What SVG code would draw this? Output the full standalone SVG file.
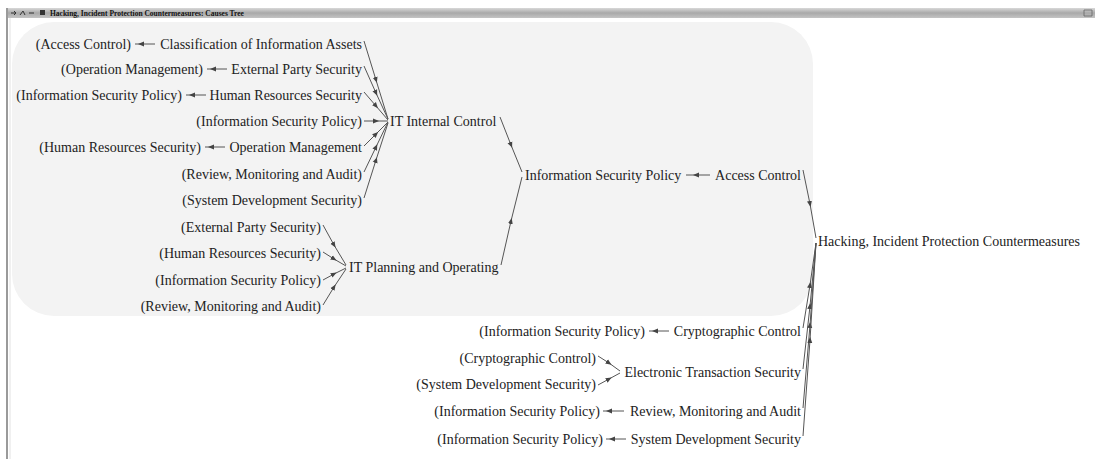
<svg xmlns="http://www.w3.org/2000/svg" width="1100" height="459" viewBox="0 0 1100 459">
<defs>
<linearGradient id="bar" x1="0" y1="0" x2="0" y2="1">
<stop offset="0" stop-color="#d8d8d8"/>
<stop offset="0.5" stop-color="#a9a9a9"/>
<stop offset="1" stop-color="#c4c4c4"/>
</linearGradient>
<marker id="ah" viewBox="0 0 6 6" refX="3" refY="3" markerWidth="6" markerHeight="6" markerUnits="userSpaceOnUse" orient="auto">
<path d="M0,0.5 L6,3 L0,5.5 z" fill="#444"/>
</marker>
<style>
text{font-family:"Liberation Serif","Times New Roman",serif;font-size:14px;fill:#222}
.e{text-anchor:end}
.c path{fill:none;stroke:#555;stroke-width:1;marker-mid:url(#ah)}
.t{font-size:7.5px;font-weight:bold;fill:#111}
</style>
</defs>
<rect x="0" y="0" width="1100" height="459" fill="#fff"/>
<!-- window frame -->
<rect x="8" y="8" width="1087" height="10" fill="url(#bar)"/>
<line x1="7" y1="8" x2="7" y2="459" stroke="#9a9a9a" stroke-width="2"/>
<line x1="10" y1="18" x2="10" y2="459" stroke="#e2e2e2" stroke-width="1"/>
<path d="M11 13 L16 13 M14 11 L16 13 L14 15 M20 15 L23 11 L25 15 M29 13 L34 13" stroke="#333" stroke-width="1" fill="none"/>
<rect x="40" y="10" width="5" height="5" fill="#333"/>
<text class="t" x="50" y="16">Hacking, Incident Protection Countermeasures: Causes Tree</text>
<path d="M1084 10 L1092 10 L1092 16 L1084 16 z" fill="none" stroke="#666" stroke-width="0.8"/>
<!-- highlight region -->
<rect x="12" y="22" width="801" height="294" rx="42" ry="42" fill="#f3f3f3"/>

<g id="connectors" class="c">
<path d="M155 44 L141 44 L135 44"/>
<path d="M227 69 L213 69 L207 69"/>
<path d="M206 95 L192 95 L186 95"/>
<path d="M225 147 L211 147 L205 147"/>
<path d="M364 41 L376 80 L388 119"/>
<path d="M364 66 L376 93 L388 119"/>
<path d="M364 92 L376 106 L388 120"/>
<path d="M364 121 L376 121 L388 121"/>
<path d="M364 146 L376 134 L388 122"/>
<path d="M364 172 L376 147 L388 122"/>
<path d="M364 198 L376 160 L388 123"/>
<path d="M323 225 L334 245 L346 265"/>
<path d="M323 252 L334 259 L346 266"/>
<path d="M323 280 L334 274 L346 268"/>
<path d="M323 305 L334 287 L346 269"/>
<path d="M500 117 L511 145 L522 172"/>
<path d="M501 265 L511 221 L522 177"/>
<path d="M710 175 L696 175 L686 175"/>
<path d="M803 170 L810 204 L816 238"/>
<path d="M669 331 L655 331 L649 331"/>
<path d="M598 356 L609 363 L620 371"/>
<path d="M598 385 L609 379 L620 373"/>
<path d="M624 411 L609 411 L603 411"/>
<path d="M626 439 L612 439 L606 439"/>
<path d="M803 328 L810 285 L816 243"/>
<path d="M803 369 L810 306 L816 243"/>
<path d="M803 408 L810 325 L816 243"/>
<path d="M803 436 L810 340 L816 243"/>
</g>

<g id="n-classification"><text class="e" x="362" y="49">Classification of Information Assets</text><text class="e" x="131" y="49">(Access Control)</text></g>
<g id="n-external"><text class="e" x="362" y="74">External Party Security</text><text class="e" x="203" y="74">(Operation Management)</text></g>
<g id="n-human"><text class="e" x="362" y="100">Human Resources Security</text><text class="e" x="182" y="100">(Information Security Policy)</text></g>
<g id="n-isp-ref1"><text class="e" x="362" y="126">(Information Security Policy)</text></g>
<g id="n-operation"><text class="e" x="362" y="152">Operation Management</text><text class="e" x="201" y="152">(Human Resources Security)</text></g>
<g id="n-rma-ref1"><text class="e" x="362" y="179">(Review, Monitoring and Audit)</text></g>
<g id="n-sds-ref1"><text class="e" x="362" y="205">(System Development Security)</text></g>
<g id="n-it-internal"><text x="390" y="126">IT Internal Control</text></g>
<g id="n-eps-ref"><text class="e" x="321" y="232">(External Party Security)</text></g>
<g id="n-hrs-ref"><text class="e" x="321" y="258">(Human Resources Security)</text></g>
<g id="n-isp-ref2"><text class="e" x="321" y="285">(Information Security Policy)</text></g>
<g id="n-rma-ref2"><text class="e" x="321" y="311">(Review, Monitoring and Audit)</text></g>
<g id="n-it-planning"><text x="349" y="272">IT Planning and Operating</text></g>
<g id="n-isp"><text x="525" y="180">Information Security Policy</text></g>
<g id="n-access"><text class="e" x="801" y="180">Access Control</text></g>
<g id="n-hacking"><text x="818" y="246">Hacking, Incident Protection Countermeasures</text></g>
<g id="n-crypto"><text class="e" x="801" y="336">Cryptographic Control</text><text class="e" x="645" y="336">(Information Security Policy)</text></g>
<g id="n-electronic"><text class="e" x="801" y="377">Electronic Transaction Security</text><text class="e" x="596" y="363">(Cryptographic Control)</text><text class="e" x="596" y="389">(System Development Security)</text></g>
<g id="n-review"><text class="e" x="801" y="416">Review, Monitoring and Audit</text><text class="e" x="600" y="416">(Information Security Policy)</text></g>
<g id="n-sysdev"><text class="e" x="801" y="444">System Development Security</text><text class="e" x="603" y="444">(Information Security Policy)</text></g>
</svg>
